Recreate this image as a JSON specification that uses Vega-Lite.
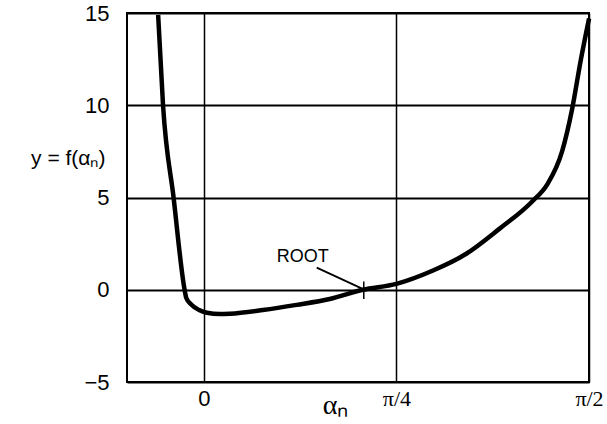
{
  "$schema": "https://vega.github.io/schema/vega-lite/v6.json",
  "width": 462,
  "height": 369,
  "autosize": "none",
  "padding": {"left": 127, "top": 13, "right": 18, "bottom": 42},
  "background": "white",
  "config": {
    "view": {"stroke": "black", "strokeWidth": 2},
    "font": "Liberation Sans"
  },
  "datasets": {
    "curve": [
      {"a": -0.187, "y": 14.9},
      {"a": -0.167, "y": 10.0},
      {"a": -0.124, "y": 5.0},
      {"a": -0.079, "y": 0.0},
      {"a": -0.072, "y": -0.45},
      {"a": -0.052, "y": -0.8},
      {"a": -0.02, "y": -1.1},
      {"a": 0.012, "y": -1.25},
      {"a": 0.065, "y": -1.32},
      {"a": 0.106, "y": -1.3},
      {"a": 0.24, "y": -1.1},
      {"a": 0.378, "y": -0.82},
      {"a": 0.513, "y": -0.5},
      {"a": 0.648, "y": 0.0},
      {"a": 0.785, "y": 0.32},
      {"a": 0.932, "y": 1.03},
      {"a": 1.07, "y": 1.95},
      {"a": 1.205, "y": 3.3},
      {"a": 1.34, "y": 4.8},
      {"a": 1.40, "y": 5.7},
      {"a": 1.461, "y": 7.5},
      {"a": 1.502, "y": 9.8},
      {"a": 1.538, "y": 12.5},
      {"a": 1.571, "y": 14.7}
    ],
    "pointer": [
      {"a": 0.46, "y": 1.2},
      {"a": 0.645, "y": 0.06}
    ],
    "tick": [
      {"a": 0.652, "y": -0.5},
      {"a": 0.652, "y": 0.45}
    ],
    "label": [
      {"a": 0.403, "y": 1.75, "text": "ROOT"}
    ]
  },
  "layer": [
    {
      "data": {"name": "curve"},
      "mark": {"type": "line", "color": "black", "strokeWidth": 4.5, "interpolate": "monotone", "clip": false},
      "encoding": {
        "x": {
          "field": "a",
          "type": "quantitative",
          "scale": {"domain": [-0.314, 1.5708], "nice": false, "zero": false},
          "axis": {
            "values": [0, 0.7854, 1.5708],
            "labelExpr": "datum.value == 0 ? '0' : (datum.value < 1 ? 'π/4' : 'π/2')",
            "labelFont": {"condition": {"test": "datum.value == 0", "value": "Liberation Sans"}, "value": "Liberation Serif"},
            "labelFontSize": 22,
            "labelColor": "black",
            "labelPadding": 6,
            "labelFlush": false,
            "labelBound": false,
            "labelOverlap": false,
            "ticks": false,
            "domain": false,
            "grid": true,
            "gridColor": "black",
            "gridWidth": 1.5,
            "gridOpacity": 1,
            "title": "αₙ",
            "titleFont": "Liberation Serif",
            "titleFontSize": 28,
            "titleFontWeight": "normal",
            "titleColor": "black",
            "titleX": 208,
            "titleY": 9,
            "titleBaseline": "top",
            "titleAlign": "center"
          }
        },
        "y": {
          "field": "y",
          "type": "quantitative",
          "scale": {"domain": [-5, 15], "nice": false, "zero": false},
          "axis": {
            "values": [-5, 0, 5, 10, 15],
            "labelExpr": "datum.value < 0 ? '−' + abs(datum.value) : datum.value",
            "labelFontSize": 22,
            "labelColor": "black",
            "labelPadding": 18,
            "labelFlush": false,
            "labelBound": false,
            "ticks": false,
            "domain": false,
            "grid": true,
            "gridColor": "black",
            "gridWidth": 2,
            "gridOpacity": 1,
            "title": "y  =  f(αₙ)",
            "titleAngle": 0,
            "titleFontSize": 21,
            "titleFontWeight": "normal",
            "titleColor": "black",
            "titleX": -22,
            "titleY": 145,
            "titleAlign": "right",
            "titleBaseline": "middle"
          }
        }
      }
    },
    {
      "data": {"name": "pointer"},
      "mark": {"type": "line", "color": "black", "strokeWidth": 1.8},
      "encoding": {
        "x": {"field": "a", "type": "quantitative"},
        "y": {"field": "y", "type": "quantitative"}
      }
    },
    {
      "data": {"name": "tick"},
      "mark": {"type": "line", "color": "black", "strokeWidth": 1.5},
      "encoding": {
        "x": {"field": "a", "type": "quantitative"},
        "y": {"field": "y", "type": "quantitative"}
      }
    },
    {
      "data": {"name": "label"},
      "mark": {"type": "text", "fontSize": 18, "color": "black", "align": "center", "baseline": "middle", "font": "Liberation Sans"},
      "encoding": {
        "x": {"field": "a", "type": "quantitative"},
        "y": {"field": "y", "type": "quantitative"},
        "text": {"field": "text"}
      }
    }
  ]
}
